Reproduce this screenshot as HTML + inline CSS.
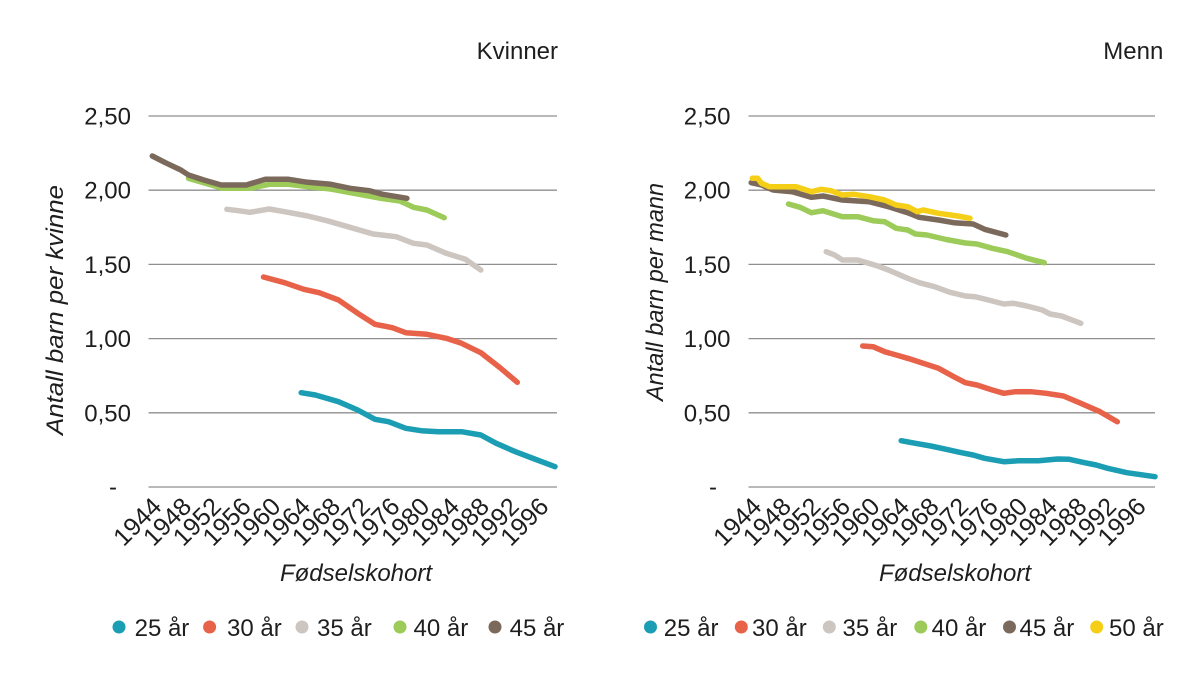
<!DOCTYPE html>
<html>
<head>
<meta charset="utf-8">
<style>
  html, body { margin:0; padding:0; background:#ffffff; }
  svg { display:block; }
  text { font-family: "Liberation Sans", "DejaVu Sans", sans-serif; fill:#1e1e1e; }
  .tick { font-size:24px; }
  .xt { font-size:25px; }
  .ttl { font-size:24px; }
  .ax { font-size:24px; font-style:italic; }
  .grid { stroke:#8f8f8f; stroke-width:1.3; }
  .ln { fill:none; stroke-width:5.5; stroke-linejoin:round; stroke-linecap:round; }
</style>
</head>
<body>
<svg width="1200" height="678" viewBox="0 0 1200 678" xmlns="http://www.w3.org/2000/svg">
  <rect x="0" y="0" width="1200" height="678" fill="#ffffff"/>

  <!-- ================= LEFT CHART (Kvinner) ================= -->
  <text class="ttl" x="558" y="59" text-anchor="end">Kvinner</text>

  <g>
    <line class="grid" x1="148.5" y1="116" x2="557" y2="116"/>
    <line class="grid" x1="148.5" y1="190.2" x2="557" y2="190.2"/>
    <line class="grid" x1="148.5" y1="264.4" x2="557" y2="264.4"/>
    <line class="grid" x1="148.5" y1="338.6" x2="557" y2="338.6"/>
    <line class="grid" x1="148.5" y1="412.8" x2="557" y2="412.8"/>
    <line class="grid" x1="148.5" y1="487" x2="557" y2="487"/>
  </g>
  <g class="tick" text-anchor="end">
    <text x="131" y="124.5">2,50</text>
    <text x="131" y="198.7">2,00</text>
    <text x="131" y="272.9">1,50</text>
    <text x="131" y="347.1">1,00</text>
    <text x="131" y="421.3">0,50</text>
  </g>
  <text class="tick" x="113" y="495" text-anchor="middle">-</text>

  <text class="ax" transform="translate(63,435) rotate(-90)" textLength="250" lengthAdjust="spacingAndGlyphs">Antall barn per kvinne</text>

  <g class="xt" text-anchor="end">
    <text transform="translate(163,508) rotate(-45)">1944</text>
    <text transform="translate(192.8,508) rotate(-45)">1948</text>
    <text transform="translate(222.6,508) rotate(-45)">1952</text>
    <text transform="translate(252.3,508) rotate(-45)">1956</text>
    <text transform="translate(282.1,508) rotate(-45)">1960</text>
    <text transform="translate(311.9,508) rotate(-45)">1964</text>
    <text transform="translate(341.7,508) rotate(-45)">1968</text>
    <text transform="translate(371.5,508) rotate(-45)">1972</text>
    <text transform="translate(401.2,508) rotate(-45)">1976</text>
    <text transform="translate(431,508) rotate(-45)">1980</text>
    <text transform="translate(460.8,508) rotate(-45)">1984</text>
    <text transform="translate(490.6,508) rotate(-45)">1988</text>
    <text transform="translate(520.4,508) rotate(-45)">1992</text>
    <text transform="translate(550.1,508) rotate(-45)">1996</text>
  </g>
  <text class="ax" x="356" y="581" text-anchor="middle">Fødselskohort</text>

  <!-- series left -->
  <polyline class="ln" stroke="#1b9db3" points="301.2,392.7 315.4,395 338.5,401.7 357.7,410 375,419.3 388.5,421.7 405.8,428.3 421.2,430.7 438.5,431.7 461.5,431.7 480.8,435 496.2,443.3 515.4,451.7 534.6,459 555,466.7"/>
  <polyline class="ln" stroke="#e8624a" points="263.5,277 284.6,282.7 303.8,289.3 319.2,292.7 338.5,300 357.7,313.3 375,324.3 392.3,327.7 405.8,332.7 426.9,334.3 446.2,338.3 461.5,343.3 480.8,352.7 500,367.7 517.3,382.3"/>
  <polyline class="ln" stroke="#cdc5c0" points="226.9,209.3 238.5,210.7 250,212.3 269.2,209 284.6,211.7 307.7,216 326.9,220.7 350,227.3 373.1,234 396.2,236.7 413.5,243.3 426.9,245 446.2,253.3 465.4,259.3 480.8,270"/>
  <polyline class="ln" stroke="#9ccb5a" points="188.5,178.3 223.1,188.3 250,188.3 269.2,184.3 288.5,184.3 307.7,186.7 330.8,189 353.8,193.3 380.8,198.3 400,201 413.5,207.3 426.9,210 444.2,217.7"/>
  <polyline class="ln" stroke="#7b6a5b" points="152.3,156 165.4,162.7 180.8,170 188.5,175 203.8,180 221.2,185 246.2,185 265.4,179.3 288.5,179.3 307.7,182.3 330.8,184.3 350,188.3 369.2,190.7 382.7,194.3 406.9,198.3"/>

  <!-- legend left -->
  <g class="tick">
    <circle cx="119" cy="627" r="6.5" fill="#1b9db3"/>
    <text x="134.6" y="636">25 år</text>
    <circle cx="209.6" cy="627" r="6.5" fill="#e8624a"/>
    <text x="227" y="636">30 år</text>
    <circle cx="302" cy="627" r="6.5" fill="#cdc5c0"/>
    <text x="317" y="636">35 år</text>
    <circle cx="400" cy="627" r="6.5" fill="#9ccb5a"/>
    <text x="413.5" y="636">40 år</text>
    <circle cx="495" cy="627" r="6.5" fill="#7b6a5b"/>
    <text x="509.6" y="636">45 år</text>
  </g>

  <!-- ================= RIGHT CHART (Menn) ================= -->
  <text class="ttl" x="1163.3" y="59" text-anchor="end">Menn</text>

  <g>
    <line class="grid" x1="748.5" y1="116" x2="1155" y2="116"/>
    <line class="grid" x1="748.5" y1="190.2" x2="1155" y2="190.2"/>
    <line class="grid" x1="748.5" y1="264.4" x2="1155" y2="264.4"/>
    <line class="grid" x1="748.5" y1="338.6" x2="1155" y2="338.6"/>
    <line class="grid" x1="748.5" y1="412.8" x2="1155" y2="412.8"/>
    <line class="grid" x1="748.5" y1="487" x2="1155" y2="487"/>
  </g>
  <g class="tick" text-anchor="end">
    <text x="730.5" y="124.5">2,50</text>
    <text x="730.5" y="198.7">2,00</text>
    <text x="730.5" y="272.9">1,50</text>
    <text x="730.5" y="347.1">1,00</text>
    <text x="730.5" y="421.3">0,50</text>
  </g>
  <text class="tick" x="713" y="495" text-anchor="middle">-</text>

  <text class="ax" transform="translate(663,401) rotate(-90)" textLength="218" lengthAdjust="spacingAndGlyphs">Antall barn per mann</text>

  <g class="xt" text-anchor="end">
    <text transform="translate(763,508) rotate(-45)">1944</text>
    <text transform="translate(792.6,508) rotate(-45)">1948</text>
    <text transform="translate(822.1,508) rotate(-45)">1952</text>
    <text transform="translate(851.7,508) rotate(-45)">1956</text>
    <text transform="translate(881.2,508) rotate(-45)">1960</text>
    <text transform="translate(910.8,508) rotate(-45)">1964</text>
    <text transform="translate(940.4,508) rotate(-45)">1968</text>
    <text transform="translate(969.9,508) rotate(-45)">1972</text>
    <text transform="translate(999.5,508) rotate(-45)">1976</text>
    <text transform="translate(1029,508) rotate(-45)">1980</text>
    <text transform="translate(1058.6,508) rotate(-45)">1984</text>
    <text transform="translate(1088.2,508) rotate(-45)">1988</text>
    <text transform="translate(1117.7,508) rotate(-45)">1992</text>
    <text transform="translate(1147.3,508) rotate(-45)">1996</text>
  </g>
  <text class="ax" x="955" y="581" text-anchor="middle">Fødselskohort</text>

  <!-- series right -->
  <polyline class="ln" stroke="#1b9db3" points="901.2,440.7 915.4,443.3 930.8,446 946.2,449.3 961.5,452.7 973.1,455 984.6,458.3 1003.8,461.7 1019.2,460.7 1038.5,460.7 1057.7,459 1069.2,459.3 1084.6,462.7 1096.2,465 1107.7,468.3 1126.9,472.7 1155,476.7"/>
  <polyline class="ln" stroke="#e8624a" points="862.7,346 873.1,346.7 884.6,351.7 896.2,355 907.7,358.3 923.1,363.3 938.5,368.3 953.8,376.7 965.4,382.7 976.9,385 992.3,390 1003.8,393.3 1015.4,391.7 1030.8,391.7 1046.2,393.3 1063.5,396 1080.8,403.3 1100,411.7 1117.3,421.7"/>
  <polyline class="ln" stroke="#cdc5c0" points="826.2,251.7 834.6,255 842.3,260 857.7,260 876.9,265.7 888.5,270 896.2,273.3 907.7,278.3 919.2,282.7 934.6,286.7 950,292.3 965.4,296 975,296.7 988.5,300 1003.8,304 1013.5,303.3 1026.9,306 1042.3,310 1050,314 1061.5,316 1080.8,323.3"/>
  <polyline class="ln" stroke="#9ccb5a" points="788.5,204 800,207.3 811.5,212.7 823.1,210.7 842.3,216.7 857.7,216.7 873.1,220.7 884.6,221.7 896.2,228.3 907.7,230 915.4,234 926.9,235 946.2,239.5 965.4,243 976.9,244 992.3,248.3 1007.7,251.7 1026.9,258.3 1044.2,262.7"/>
  <polyline class="ln" stroke="#7b6a5b" points="751.2,182.7 761.5,185 773.1,190 792.3,191.7 811.5,197.3 823.1,196 842.3,200 869.2,201.7 888.5,206.7 907.7,212.7 919.2,217.3 938.5,220 953.8,222.7 973.1,224 984.6,229.3 1005.8,235"/>
  <polyline class="ln" stroke="#f5cf17" points="752.3,178.3 757.7,178.3 761.5,183.3 769.2,186.7 796.2,186.7 811.5,191.7 821.2,189.3 830.8,190.7 842.3,195 853.8,194.3 869.2,196.7 884.6,200 896.2,205 907.7,206.7 917.3,211.7 923.1,210 938.5,213.3 957.7,216 970,218.3"/>

  <!-- legend right -->
  <g class="tick">
    <circle cx="650.5" cy="627" r="6.5" fill="#1b9db3"/>
    <text x="663.8" y="636">25 år</text>
    <circle cx="741.3" cy="627" r="6.5" fill="#e8624a"/>
    <text x="752" y="636">30 år</text>
    <circle cx="829.3" cy="627" r="6.5" fill="#cdc5c0"/>
    <text x="842.5" y="636">35 år</text>
    <circle cx="920.8" cy="627" r="6.5" fill="#9ccb5a"/>
    <text x="931.6" y="636">40 år</text>
    <circle cx="1009.5" cy="627" r="6.5" fill="#7b6a5b"/>
    <text x="1019.5" y="636">45 år</text>
    <circle cx="1096.7" cy="627" r="6.5" fill="#f5cf17"/>
    <text x="1109" y="636">50 år</text>
  </g>
</svg>
</body>
</html>
